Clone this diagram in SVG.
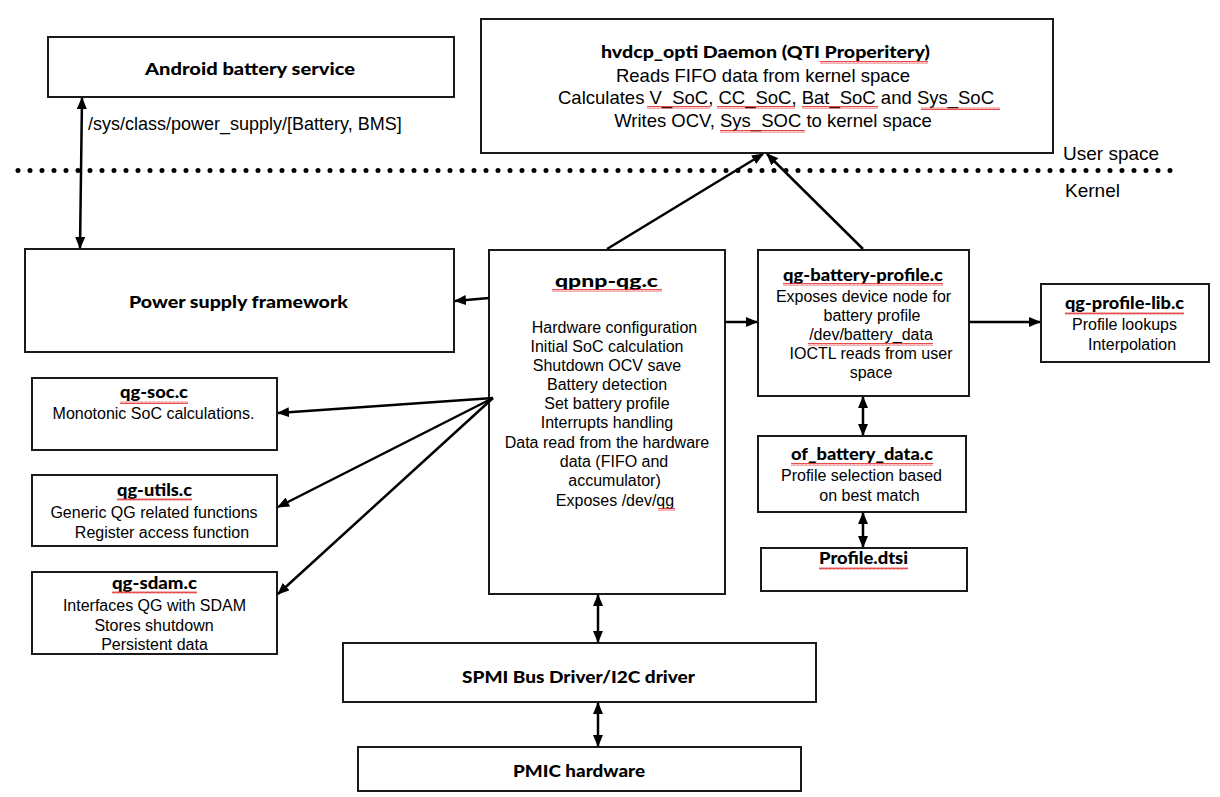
<svg xmlns="http://www.w3.org/2000/svg" width="1220" height="797" viewBox="0 0 1220 797">
<defs>
<marker id="ah" markerUnits="userSpaceOnUse" markerWidth="12" markerHeight="10" refX="11" refY="5" orient="auto-start-reverse" viewBox="0 0 12 10">
<path d="M0,0 L12,5 L0,10 z" fill="#000"/>
</marker>
<pattern id="sq" patternUnits="userSpaceOnUse" width="4" height="3">
<polyline points="0,2.5 1,0.5 2,2.5 3,0.5 4,2.5" fill="none" stroke="#e02020" stroke-width="0.8"/>
</pattern>
<style>
.box{fill:#fff;stroke:#1a1a1a;stroke-width:2}
.b{font-family:Lato,"Liberation Sans",sans-serif;font-weight:900;fill:#000;text-anchor:middle}
.t{font-family:"Liberation Sans",Arial,sans-serif;fill:#000;text-anchor:middle}
.c{stroke:#000;stroke-width:2.5;fill:none}
.one{marker-end:url(#ah)}
.two{marker-start:url(#ah);marker-end:url(#ah)}
.sq{fill:url(#sq)}
</style>
</defs>
<rect width="1220" height="797" fill="#fff"/>

<line x1="18" y1="170.5" x2="1172" y2="170.5" stroke="#000" stroke-width="5" stroke-linecap="round" stroke-dasharray="0 12"/>
<text class="t" x="1063" y="160" style="text-anchor:start;font-size:19px">User space</text>
<text class="t" x="1065" y="197" style="text-anchor:start;font-size:19px">Kernel</text>

<g id="android">
<rect class="box" x="48" y="37" width="406" height="60"/>
<text class="b" x="250" y="75" font-size="17.5" textLength="210" lengthAdjust="spacingAndGlyphs">Android battery service</text>
</g>

<g id="daemon">
<rect class="box" x="481" y="19" width="572" height="134"/>
<text class="b" x="765.5" y="58" font-size="17.5" textLength="329" lengthAdjust="spacingAndGlyphs">hvdcp_opti Daemon (QTI Properitery)</text>
<text class="t" x="763" y="82" font-size="18.5">Reads FIFO data from kernel space</text>
<text class="t" x="776" y="104" font-size="18.5">Calculates V_SoC, CC_SoC, Bat_SoC and Sys_SoC</text>
<text class="t" x="773" y="127" font-size="18.5">Writes OCV, Sys_SOC to kernel space</text>
<rect class="sq" x="820" y="61" width="108" height="3"/>
<rect class="sq" x="647" y="106" width="63" height="3"/>
<rect class="sq" x="717" y="106" width="78" height="3"/>
<rect class="sq" x="802" y="106" width="76" height="3"/>
<rect class="sq" x="921" y="107" width="79" height="3"/>
<rect class="sq" x="720" y="130" width="85" height="3"/>
</g>

<g id="power">
<rect class="box" x="25" y="249" width="429" height="103"/>
<text class="b" x="238.5" y="308" font-size="17.5" textLength="219" lengthAdjust="spacingAndGlyphs">Power supply framework</text>
</g>

<g id="qpnp">
<rect class="box" x="489" y="250" width="236" height="344"/>
<text class="b" x="606.5" y="287" font-size="17.5" textLength="103" lengthAdjust="spacingAndGlyphs">qpnp-qg.c</text>
<rect class="sq" x="552" y="289" width="110" height="3"/>
<g font-size="16">
<text class="t" x="614.5" y="333">Hardware configuration</text>
<text class="t" x="607" y="352">Initial SoC calculation</text>
<text class="t" x="607" y="371">Shutdown OCV save</text>
<text class="t" x="607" y="390">Battery detection</text>
<text class="t" x="607" y="409">Set battery profile</text>
<text class="t" x="607" y="428">Interrupts handling</text>
<text class="t" x="607" y="448">Data read from the hardware</text>
<text class="t" x="614" y="467">data (FIFO and</text>
<text class="t" x="614.5" y="486">accumulator)</text>
<text class="t" x="615" y="506">Exposes /dev/qg</text>
</g>
<rect class="sq" x="658" y="508" width="17" height="3"/>
</g>

<g id="battery-profile">
<rect class="box" x="758" y="250" width="211" height="146"/>
<text class="b" x="863" y="281" font-size="17" textLength="160" lengthAdjust="spacingAndGlyphs">qg-battery-profile.c</text>
<rect class="sq" x="783" y="283" width="160" height="3"/>
<g font-size="16">
<text class="t" x="863.5" y="302">Exposes device node for</text>
<text class="t" x="872" y="321">battery profile</text>
<text class="t" x="871" y="340">/dev/battery_data</text>
<text class="t" x="871" y="359">IOCTL reads from user</text>
<text class="t" x="871" y="378">space</text>
</g>
<rect class="sq" x="808" y="343" width="125" height="3"/>
</g>

<g id="profile-lib">
<rect class="box" x="1041" y="284" width="168" height="78"/>
<text class="b" x="1124.5" y="309" font-size="17" textLength="119" lengthAdjust="spacingAndGlyphs">qg-profile-lib.c</text>
<rect class="sq" x="1065" y="312" width="119" height="3"/>
<text class="t" x="1124.5" y="330" font-size="16">Profile lookups</text>
<text class="t" x="1132" y="350" font-size="16">Interpolation</text>
</g>

<g id="of-battery-data">
<rect class="box" x="758" y="436" width="208" height="76"/>
<text class="b" x="862" y="460" font-size="17" textLength="142" lengthAdjust="spacingAndGlyphs">of_battery_data.c</text>
<rect class="sq" x="791" y="463" width="142" height="3"/>
<text class="t" x="861.5" y="481" font-size="16">Profile selection based</text>
<text class="t" x="869.5" y="501" font-size="16">on best match</text>
</g>

<g id="profile-dtsi">
<rect class="box" x="761" y="548" width="206" height="43"/>
<text class="b" x="863.5" y="564" font-size="17" textLength="89" lengthAdjust="spacingAndGlyphs">Profile.dtsi</text>
<rect class="sq" x="819" y="567" width="89" height="3"/>
</g>

<g id="qg-soc">
<rect class="box" x="32" y="378" width="245" height="72"/>
<text class="b" x="154" y="398" font-size="17" textLength="68" lengthAdjust="spacingAndGlyphs">qg-soc.c</text>
<rect class="sq" x="120" y="401" width="68" height="3"/>
<text class="t" x="153.5" y="419" font-size="16">Monotonic SoC calculations.</text>
</g>

<g id="qg-utils">
<rect class="box" x="32" y="475" width="245" height="71"/>
<text class="b" x="154.5" y="496" font-size="17" textLength="75" lengthAdjust="spacingAndGlyphs">qg-utils.c</text>
<rect class="sq" x="117" y="498" width="75" height="3"/>
<text class="t" x="154" y="518" font-size="16">Generic QG related functions</text>
<text class="t" x="162" y="538" font-size="16">Register access function</text>
</g>

<g id="qg-sdam">
<rect class="box" x="32" y="572" width="245" height="82"/>
<text class="b" x="154.5" y="589" font-size="17" textLength="85" lengthAdjust="spacingAndGlyphs">qg-sdam.c</text>
<rect class="sq" x="112" y="591" width="85" height="3"/>
<text class="t" x="154.5" y="611" font-size="16">Interfaces QG with SDAM</text>
<text class="t" x="154" y="631" font-size="16">Stores shutdown</text>
<text class="t" x="154.5" y="650" font-size="16">Persistent data</text>
</g>

<g id="spmi">
<rect class="box" x="343" y="643" width="473" height="59"/>
<text class="b" x="578.5" y="683" font-size="17.5" textLength="233" lengthAdjust="spacingAndGlyphs">SPMI Bus Driver/I2C driver</text>
</g>

<g id="pmic">
<rect class="box" x="358" y="747" width="443" height="44"/>
<text class="b" x="579" y="777" font-size="17.5" textLength="132" lengthAdjust="spacingAndGlyphs">PMIC hardware</text>
</g>

<g id="connectors">
<line class="c two" x1="82" y1="98" x2="80" y2="248"/>
<text class="t" x="88" y="130" style="text-anchor:start;font-size:18px">/sys/class/power_supply/[Battery, BMS]</text>
<line class="c one" x1="489" y1="298" x2="455" y2="301"/>
<line class="c one" x1="607" y1="249" x2="763" y2="154"/>
<line class="c one" x1="863" y1="249" x2="767" y2="154"/>
<line class="c one" x1="725" y1="322" x2="757" y2="322"/>
<line class="c one" x1="969" y1="322" x2="1040" y2="322"/>
<line class="c two" x1="863" y1="397" x2="863" y2="435"/>
<line class="c two" x1="863" y1="513" x2="863" y2="547"/>
<line class="c one" x1="493" y1="398" x2="278" y2="413"/>
<line class="c one" x1="493" y1="398" x2="278" y2="507"/>
<line class="c one" x1="493" y1="398" x2="278" y2="594"/>
<line class="c two" x1="598" y1="595" x2="598" y2="642"/>
<line class="c two" x1="598" y1="703" x2="598" y2="746"/>
</g>
</svg>
